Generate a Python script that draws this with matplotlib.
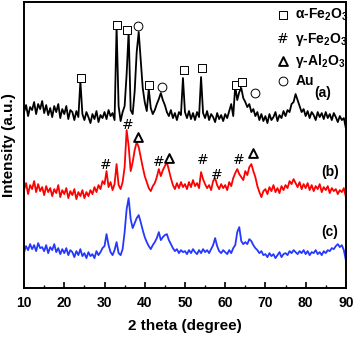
import numpy as np
import matplotlib
matplotlib.use("Agg")
import matplotlib.pyplot as plt

plt.rcParams["font.family"] = ["Liberation Sans", "DejaVu Sans"]
plt.rcParams["font.weight"] = "bold"
plt.rcParams["mathtext.fontset"] = "custom"
plt.rcParams["mathtext.rm"] = "Liberation Sans:bold"
plt.rcParams["mathtext.bf"] = "Liberation Sans:bold"
plt.rcParams["mathtext.default"] = "bf"

# 2 theta grid, 10..90 step 0.5
two_theta = np.arange(10.0, 90.01, 0.5)

# (a) black
curve_a = [
    176, 183, 172, 181, 178, 186, 174, 184, 179, 187,
    175, 183, 173, 180, 171, 182, 176, 184, 170, 179,
    174, 182, 169, 178, 176, 168, 177, 171, 207, 174,
    168, 176, 171, 165, 174, 169, 177, 166, 173, 170,
    176, 169, 178, 172, 175, 168, 262, 182, 167, 176,
    182, 214, 257, 178, 174, 197, 236, 256, 228, 200,
    186, 177, 199, 180, 174, 178, 184, 189, 195, 188,
    183, 176, 172, 178, 170, 175, 168, 176, 173, 210,
    176, 170, 177, 169, 175, 168, 176, 171, 211, 175,
    170, 177, 168, 174, 171, 166, 175, 169, 173, 167,
    174, 170, 177, 184, 172, 202, 188, 196, 200, 190,
    186, 181, 184, 176, 179, 172, 176, 168, 174, 167,
    172, 165, 174, 168, 171, 176, 167, 173, 170, 177,
    172, 178, 176, 184, 186, 194, 188, 182, 176, 179,
    172, 177, 170, 176, 173, 168, 176, 171, 175, 169,
    176, 170, 174, 168, 175, 171, 166, 172, 168, 170,
    160,
]

# (b) red
curve_b = [
    98, 105, 94, 103, 99, 107, 96, 104, 97, 101,
    93, 102, 96, 100, 92, 99, 95, 103, 91, 98,
    94, 100, 90, 97, 93, 99, 89, 96, 92, 98,
    90, 96, 92, 98, 94, 101, 96, 103, 99, 107,
    104, 117, 101, 106, 98, 104, 124, 103, 99, 106,
    121, 158, 142, 117, 126, 138, 146, 141, 131, 121,
    112, 106, 100, 97, 102, 105, 111, 119, 112, 118,
    122, 126, 118, 110, 103, 99, 105, 100, 106, 101,
    104, 99, 106, 101, 108, 102, 105, 100, 116, 109,
    104, 100, 103, 98, 107, 110, 103, 99, 104, 100,
    103, 98, 106, 102, 110, 115, 119, 114, 111, 108,
    117, 113, 121, 124, 117, 111, 102, 96, 91, 97,
    99, 94, 101, 97, 103, 96, 100, 95, 102, 98,
    103, 100, 107, 104, 109, 105, 101, 106, 99, 104,
    100, 105, 98, 103, 97, 102, 99, 104, 96, 101,
    98, 102, 95, 100, 97, 99, 94, 98, 96, 100,
    91,
]

# (c) blue
curve_c = [
    36, 42, 38, 44, 39, 43, 37, 45, 40, 41,
    37, 43, 35, 41, 38, 44, 36, 40, 34, 39,
    35, 40, 33, 38, 36, 31, 37, 33, 39, 32,
    35, 30, 36, 32, 34, 30, 37, 33, 36, 40,
    42, 54, 43, 36, 33, 38, 46, 35, 33, 39,
    56, 79, 90, 69, 60, 65, 70, 73, 66, 58,
    51, 46, 42, 39, 43, 46, 50, 56, 48, 51,
    53, 54, 48, 44, 40, 37, 39, 35, 38, 36,
    37, 34, 38, 35, 39, 36, 34, 38, 35, 39,
    36, 38, 35, 39, 43, 50, 42, 37, 35, 38,
    36, 34, 38, 35, 40, 43, 56, 61, 47, 44,
    46, 44, 49, 47, 43, 40, 38, 35, 37, 33,
    34, 31, 35, 32, 34, 30, 33, 36, 31, 34,
    35, 33, 37, 35, 38, 36, 34, 37, 35, 38,
    34, 37, 33, 36, 35, 38, 34, 36, 33, 37,
    35, 38, 37, 40, 39, 42, 44, 41, 43, 38,
    28,
]

# phase markers (2 theta, height)
square_x = [24.2, 33.2, 35.5, 41.1, 49.7, 54.2, 62.7, 64.3]
square_y = [210, 263, 258, 203, 218, 220, 203, 206]
circle_x = [38.4, 44.2, 67.4]
circle_y = [262, 201, 195]
hash_x = [30.4, 35.7, 43.6, 54.4, 57.9, 63.4]
hash_y = [123, 163, 126, 128, 113, 128]
tri_x = [38.2, 46.1, 67.0]
tri_y = [151, 130, 135]

fig = plt.figure(figsize=(3.54, 3.37), dpi=100)
ax = fig.add_axes([0.068, 0.145, 0.909, 0.849])

ax.plot(two_theta, curve_a, color="black", lw=1.3)
ax.plot(two_theta, curve_b, color="#ff0000", lw=1.3)
ax.plot(two_theta, curve_c, color="#2438ff", lw=1.3)

ax.scatter(square_x, square_y, marker="s", s=28, facecolors="white",
           edgecolors="black", linewidths=0.7, zorder=5)
ax.scatter(circle_x, circle_y, marker="o", s=40, facecolors="white",
           edgecolors="black", linewidths=0.7, zorder=5)
ax.scatter(tri_x, tri_y, marker="^", s=40, facecolors="white",
           edgecolors="black", linewidths=1.4, zorder=5)
for x, y in zip(hash_x, hash_y):
    ax.text(x, y, "#", ha="center", va="center", fontsize=10,
            fontweight="normal", family="DejaVu Sans", zorder=6)

# legend drawn by hand
leg_x, txt_x = 74.3, 77.4
ax.scatter([leg_x], [273], marker="s", s=28, facecolors="white",
           edgecolors="black", linewidths=0.7)
ax.text(leg_x, 249, "#", ha="center", va="center", fontsize=10,
        fontweight="normal", family="DejaVu Sans")
ax.scatter([leg_x], [227], marker="^", s=40, facecolors="white",
           edgecolors="black", linewidths=1.4)
ax.scatter([leg_x], [207], marker="o", s=40, facecolors="white",
           edgecolors="black", linewidths=0.7)
ax.text(txt_x, 273, r"α-Fe$_2$O$_3$", va="center", fontsize=10)
ax.text(txt_x, 249, r"γ-Fe$_2$O$_3$", va="center", fontsize=10)
ax.text(txt_x, 227, r"γ-Al$_2$O$_3$", va="center", fontsize=10)
ax.text(txt_x, 207, "Au", va="center", fontsize=10)

ax.text(84.3, 195, "(a)", ha="center", va="center", fontsize=10)
ax.text(86.0, 116, "(b)", ha="center", va="center", fontsize=10)
ax.text(86.0, 56, "(c)", ha="center", va="center", fontsize=10)

ax.set_xlim(10, 90)
ax.set_ylim(0, 286)
ax.set_xticks(range(10, 91, 10))
ax.set_xticks(range(15, 90, 10), minor=True)
ax.set_yticks([])
ax.tick_params(axis="x", which="major", direction="in", length=4, width=1.2,
               labelsize=10, pad=6)
ax.tick_params(axis="x", which="minor", direction="in", length=2.5, width=1.0)
for lab in ax.get_xticklabels():
    lab.set_fontweight("bold")
for sp in ax.spines.values():
    sp.set_linewidth(1.4)

ax.set_xlabel("2 theta (degree)", fontsize=11, fontweight="bold", labelpad=6)
ax.set_ylabel("Intensity (a.u.)", fontsize=11, fontweight="bold", labelpad=6)

fig.savefig("out.png", dpi=100)
plt.close(fig)
